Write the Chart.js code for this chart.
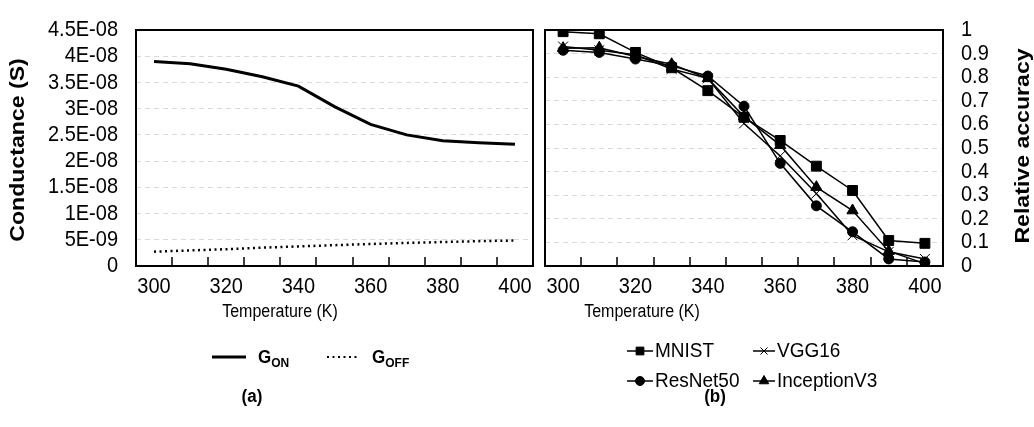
<!DOCTYPE html>
<html>
<head>
<meta charset="utf-8">
<script src="https://cdn.jsdelivr.net/npm/chart.js@4.4.1/dist/chart.umd.min.js"></script>
<style>
  html, body { margin: 0; padding: 0; background: #fff; }
  #wrap { position: relative; width: 1034px; height: 427px; overflow: hidden; }
  #left { position: absolute; left: 0; top: 0; width: 537px; height: 427px; }
  #right { position: absolute; left: 537px; top: 0; width: 497px; height: 427px; }
</style>
</head>
<body>
<div id="wrap">
  <canvas id="left" width="537" height="427"></canvas>
  <canvas id="right" width="497" height="427"></canvas>
</div>
<script>
// ---- data ----
const temps = ['300', '310', '320', '330', '340', '350', '360', '370', '380', '390', '400'];

// (a) conductance, S
const gOn  = [3.90e-8, 3.855e-8, 3.75e-8, 3.61e-8, 3.43e-8, 3.04e-8, 2.70e-8, 2.50e-8, 2.39e-8, 2.35e-8, 2.32e-8];
const gOff = [2.73e-9, 2.97e-9, 3.20e-9, 3.50e-9, 3.74e-9, 3.97e-9, 4.20e-9, 4.40e-9, 4.57e-9, 4.74e-9, 4.86e-9];
const condTickVals = [0, 5e-9, 1e-8, 1.5e-8, 2e-8, 2.5e-8, 3e-8, 3.5e-8, 4e-8, 4.5e-8];
const condTickLabels = ['0', '5E-09', '1E-08', '1.5E-08', '2E-08', '2.5E-08', '3E-08', '3.5E-08', '4E-08', '4.5E-08'];

// (b) relative accuracy
const mnist     = [0.993, 0.984, 0.905, 0.840, 0.743, 0.630, 0.532, 0.423, 0.320, 0.108, 0.096];
const vgg16     = [0.930, 0.914, 0.895, 0.835, 0.795, 0.604, 0.466, 0.307, 0.130, 0.060, 0.030];
const resnet50  = [0.914, 0.905, 0.877, 0.848, 0.805, 0.677, 0.435, 0.255, 0.145, 0.030, 0.017];
const inception = [0.923, 0.925, 0.888, 0.855, 0.795, 0.633, 0.512, 0.334, 0.235, 0.063, 0.010];
const accTickVals = [0, 0.1, 0.2, 0.3, 0.4, 0.5, 0.6, 0.7, 0.8, 0.9, 1];
const accTickLabels = ['0', '0.1', '0.2', '0.3', '0.4', '0.5', '0.6', '0.7', '0.8', '0.9', '1'];

const xTitle = 'Temperature (K)';
const yTitleA = 'Conductance (S)';
const yTitleB = 'Relative accuracy';
const captionA = '(a)';
const captionB = '(b)';

const FAM = "'Liberation Sans', Arial, sans-serif";
const K = 1.1; // the source text is drawn a bit taller than it is wide

Chart.defaults.font.family = FAM;
Chart.defaults.color = '#000';

// make every label on a canvas a little taller, like the source picture
function stretchText(ctx) {
  if (ctx._plainFill) return;
  ctx._plainFill = ctx.fillText;
  ctx.fillText = function (s, x, y, m) {
    this.save();
    this.translate(x, y);
    this.scale(1, K);
    if (m === undefined) this._plainFill(s, 0, 0); else this._plainFill(s, 0, 0, m);
    this.restore();
  };
}

function txt(ctx, s, x, y, font, align, rot) {
  ctx.save();
  ctx.translate(x, y);
  if (rot) { ctx.rotate(rot); ctx.scale(K, 1); } else ctx.scale(1, K);
  ctx.font = font;
  ctx.fillStyle = '#000';
  ctx.textAlign = align || 'center';
  ctx.textBaseline = 'middle';
  ctx._plainFill(s, 0, 0);
  ctx.restore();
}

function marker(ctx, style, r, x, y) {
  if (Chart.helpers && Chart.helpers.drawPoint) {
    Chart.helpers.drawPoint(ctx, { pointStyle: style, radius: r, rotation: 0, borderWidth: 1 }, x, y);
  }
}

// frame, inner tick marks, titles, legend, caption
const deco = {
  id: 'deco',
  beforeDraw(chart) {
    stretchText(chart.ctx);
  },
  beforeDatasetsDraw(chart) {
    const { ctx, chartArea: a } = chart;
    const xs = chart.scales.x;
    ctx.save();
    ctx.strokeStyle = '#000';
    ctx.lineWidth = 1.5;
    for (let i = 1; i < xs.ticks.length; i++) {
      const px = Math.round((xs.getPixelForValue(i - 1) + xs.getPixelForValue(i)) / 2);
      ctx.beginPath();
      ctx.moveTo(px, a.bottom);
      ctx.lineTo(px, a.bottom - 9);
      ctx.stroke();
    }
    ctx.lineWidth = 2;
    ctx.strokeRect(a.left, a.top, a.right - a.left, a.bottom - a.top);
    ctx.restore();
  },
  afterDraw(chart, args, o) {
    const ctx = chart.ctx;
    txt(ctx, xTitle, o.xTitle[0], o.xTitle[1], '16px ' + FAM);
    txt(ctx, o.yTitle, o.yTitlePos[0], o.yTitlePos[1], 'bold 21px ' + FAM, 'center', -Math.PI / 2);
    txt(ctx, o.caption, o.captionPos[0], o.captionPos[1], 'bold 17px ' + FAM);

    chart.data.datasets.forEach((ds, i) => {
      const [lx, ly, len] = o.legend[i];
      ctx.save();
      ctx.strokeStyle = '#000';
      ctx.fillStyle = '#000';
      ctx.lineWidth = ds.legendWidth || ds.borderWidth;
      ctx.setLineDash(ds.borderDash || []);
      ctx.beginPath();
      ctx.moveTo(lx, ly);
      ctx.lineTo(lx + len, ly);
      ctx.stroke();
      ctx.setLineDash([]);
      ctx.lineWidth = 1;
      if (ds.pointRadius > 0) marker(ctx, ds.pointStyle, ds.legendRadius, lx + len / 2, ly);
      ctx.restore();
      const parts = ds.label.split('_');
      if (parts.length > 1) {
        ctx.save();
        ctx.font = 'bold 17px ' + FAM;
        const tx = lx + len + o.gap;
        txt(ctx, parts[0], tx, ly + 1, 'bold 17px ' + FAM, 'left');
        const w = ctx.measureText(parts[0]).width;
        txt(ctx, parts[1], tx + w, ly + 6, 'bold 12px ' + FAM, 'left');
        ctx.restore();
      } else {
        txt(ctx, ds.label, lx + len + o.gap, ly, '19px ' + FAM, 'left');
      }
    });
  }
};

function xScale() {
  return {
    type: 'category',
    offset: true,
    grid: { display: false },
    border: { display: false },
    ticks: {
      autoSkip: false,
      maxRotation: 0,
      padding: 1,
      font: { size: 20 },
      callback: function (v, i) { return i % 2 === 0 ? this.getLabelForValue(v) : ''; }
    },
    afterFit: s => { s.height = 60; }
  };
}

function yScale(pos, vals, labels, min, max, width) {
  return {
    position: pos,
    min: min,
    max: max,
    grid: { color: '#d9d9d9', lineWidth: 1, drawTicks: false },
    border: { display: false, dash: [5, 4] },
    ticks: {
      autoSkip: false,
      padding: 18,
      font: { size: 20 },
      callback: (v, i) => labels[i]
    },
    afterBuildTicks: s => { s.ticks = vals.map(v => ({ value: v })); },
    afterFit: s => { s.width = width; }
  };
}

new Chart(document.getElementById('left'), {
  type: 'line',
  data: {
    labels: temps,
    datasets: [
      { label: 'G_ON', data: gOn, borderColor: '#000', borderWidth: 3, pointRadius: 0, tension: 0 },
      { label: 'G_OFF', data: gOff, borderColor: '#000', borderWidth: 2.5, borderDash: [2, 3.5], legendWidth: 2, pointRadius: 0, tension: 0 }
    ]
  },
  options: {
    responsive: false,
    animation: false,
    devicePixelRatio: 1,
    layout: { padding: { top: 13, right: 4, bottom: 101, left: 0 } },
    scales: {
      x: xScale(),
      y: yScale('left', condTickVals, condTickLabels, 0, 4.5e-8, 136)
    },
    plugins: {
      legend: { display: false },
      tooltip: { enabled: false },
      deco: {
        xTitle: [280, 312],
        yTitle: yTitleA,
        yTitlePos: [18, 150],
        caption: captionA,
        captionPos: [252, 397],
        gap: 12,
        legend: [[212, 357, 34], [327, 357, 33]]
      }
    }
  },
  plugins: [deco]
});

const OX = 537; // right canvas offset on the page
function ser(label, data, style, r, lr) {
  return {
    label: label, data: data, borderColor: '#000', borderWidth: 1.5,
    pointStyle: style, pointRadius: r, legendRadius: lr,
    pointBackgroundColor: '#000', pointBorderColor: '#000', pointBorderWidth: 1, tension: 0
  };
}

new Chart(document.getElementById('right'), {
  type: 'line',
  data: {
    labels: temps,
    datasets: [
      ser('MNIST', mnist, 'rect', 7, 5.5),
      ser('VGG16', vgg16, 'crossRot', 7, 5),
      ser('ResNet50', resnet50, 'circle', 5, 4.5),
      ser('InceptionV3', inception, 'triangle', 6.5, 5.5)
    ]
  },
  options: {
    responsive: false,
    animation: false,
    devicePixelRatio: 1,
    layout: { padding: { top: 13, right: 0, bottom: 101, left: 4 } },
    scales: {
      x: xScale(),
      y: yScale('right', accTickVals, accTickLabels, 0, 1, 91)
    },
    plugins: {
      legend: { display: false },
      tooltip: { enabled: false },
      deco: {
        xTitle: [642 - OX, 312],
        yTitle: yTitleB,
        yTitlePos: [1023 - OX, 146],
        caption: captionB,
        captionPos: [715 - OX, 397],
        gap: 2,
        legend: [[627 - OX, 351, 26], [753 - OX, 351, 22], [627 - OX, 381, 26], [753 - OX, 381, 22]]
      }
    }
  },
  plugins: [deco]
});
</script>
</body>
</html>
